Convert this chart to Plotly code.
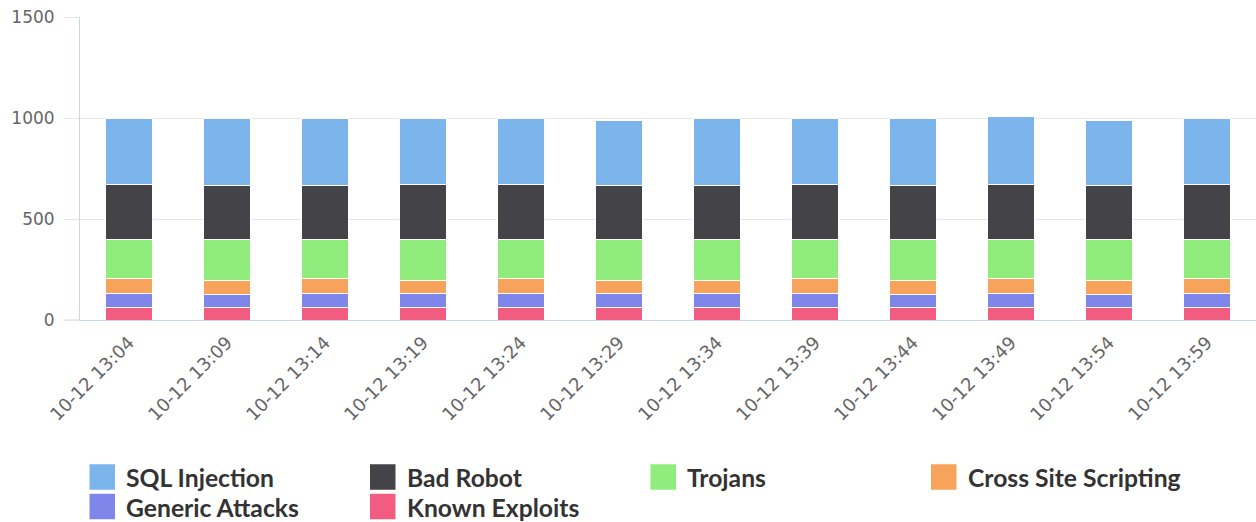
import plotly.graph_objects as go

# Time buckets on the category axis
categories = ["10-12 13:04", "10-12 13:09", "10-12 13:14", "10-12 13:19",
              "10-12 13:24", "10-12 13:29", "10-12 13:34", "10-12 13:39",
              "10-12 13:44", "10-12 13:49", "10-12 13:54", "10-12 13:59"]

# Attack counts per bucket (stacked bottom to top)
known_exploits = [64, 63, 63, 63, 63, 63, 63, 63, 63, 63, 63, 63]
generic_attacks = [66, 63, 67, 67, 67, 67, 67, 67, 63, 67, 63, 67]
cross_site_scripting = [73, 70, 73, 66, 73, 66, 66, 73, 70, 73, 70, 73]
trojans = [198, 205, 198, 205, 198, 205, 205, 198, 205, 198, 205, 198]
bad_robot = [271, 263, 263, 271, 271, 263, 263, 271, 263, 271, 263, 271]
sql_injection = [328, 336, 336, 328, 328, 326, 336, 328, 336, 336, 326, 328]

y_ticks = [0, 500, 1000, 1500]

# Stack order (bottom first) with colours
stack = [
    ("Known Exploits", known_exploits, "#f15c80"),
    ("Generic Attacks", generic_attacks, "#8085e9"),
    ("Cross Site Scripting", cross_site_scripting, "#f7a35c"),
    ("Trojans", trojans, "#90ed7d"),
    ("Bad Robot", bad_robot, "#434348"),
    ("SQL Injection", sql_injection, "#7cb5ec"),
]
legend_order = ["SQL Injection", "Bad Robot", "Trojans", "Cross Site Scripting",
                "Generic Attacks", "Known Exploits"]
colors = {name: c for name, _, c in stack}

W, H = 1256, 522
ML, MR, MT, MB = 80, 0, 17, 202
PW, PH = W - ML - MR, H - MT - MB

fig = go.Figure()
for name, vals, color in stack:
    fig.add_trace(go.Bar(
        x=categories, y=vals, name=name,
        marker=dict(color=color, line=dict(color="#ffffff", width=1)),
        showlegend=False,
    ))

# Legend drawn as large square swatches with labels, 4 per row
def px_x(px):
    return (px - ML) / PW

def px_y(py):
    return (H - MB - py) / PH

shapes = []
annotations = []
col_x = [89.5, 370, 650.5, 931]
row_y = [477, 506.5]
sw = 25.5
for i, name in enumerate(legend_order):
    cx = col_x[i % 4]
    cy = row_y[i // 4]
    shapes.append(dict(
        type="rect", xref="paper", yref="paper",
        x0=px_x(cx), x1=px_x(cx + sw),
        y0=px_y(cy - sw / 2), y1=px_y(cy + sw / 2),
        fillcolor=colors[name], line=dict(width=0),
    ))
    annotations.append(dict(
        xref="paper", yref="paper", x=px_x(cx + 34.5), y=px_y(cy + 1),
        xanchor="left", yanchor="middle", showarrow=False,
        text=name, font=dict(family="Lato", size=24.7, color="#333333", weight="bold"),
    ))

# Short blue stub continuing the category axis line past the value axis
shapes.append(dict(
    type="line", xref="paper", yref="y",
    x0=px_x(ML - 15), x1=0, y0=0, y1=0,
    line=dict(color="#ccd6eb", width=1),
))

fig.update_layout(
    width=W, height=H,
    margin=dict(l=ML, r=MR, t=MT, b=MB),
    paper_bgcolor="#ffffff", plot_bgcolor="#ffffff",
    barmode="stack", bargap=0.525,
    showlegend=False,
    shapes=shapes, annotations=annotations,
    xaxis=dict(
        type="category", tickangle=-45,
        showline=True, linecolor="#ccd6eb", linewidth=1,
        showgrid=False, ticks="",
        tickfont=dict(family="DejaVu Sans", size=18, color="#666666"),
        ticklabelstandoff=4,
    ),
    yaxis=dict(
        range=[0, 1500], tickvals=y_ticks,
        showline=True, linecolor="#ccd6eb", linewidth=1,
        showgrid=True, gridcolor="#e6e6e6", gridwidth=1,
        zeroline=False,
        ticks="outside", ticklen=15, tickcolor="#e6e6e6",
        tickfont=dict(family="DejaVu Sans", size=17, color="#666666"),
        ticklabelstandoff=6,
    ),
)

fig.write_html("out.html")
